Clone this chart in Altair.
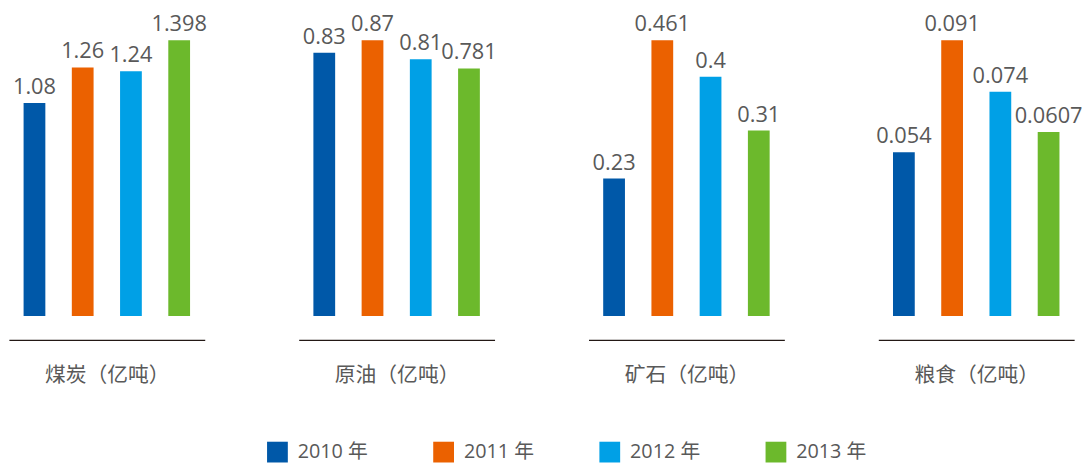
import altair as alt
import pandas as pd

years = ["2010 年", "2011 年", "2012 年", "2013 年"]
categories = ["煤炭（亿吨）", "原油（亿吨）", "矿石（亿吨）", "粮食（亿吨）"]
coal = [1.08, 1.26, 1.24, 1.398]
oil = [0.83, 0.87, 0.81, 0.781]
ore = [0.23, 0.461, 0.4, 0.31]
grain = [0.054, 0.091, 0.074, 0.0607]
colors = ["#0058A8", "#EB6100", "#00A0E6", "#6CB92C"]

series = [coal, oil, ore, grain]
rows = []
for cat, vals in zip(categories, series):
    for y, v in zip(years, vals):
        rows.append({"category": cat, "year": y, "value": v, "label": str(v)})
df = pd.DataFrame(rows)

FONT = "Open Sans, Noto Sans CJK SC"
CJK = "Noto Sans CJK SC"
TXT = "#595959"

color_enc = alt.Color(
    "year:N",
    scale=alt.Scale(domain=years, range=colors),
    legend=alt.Legend(
        title=None,
        orient="none",
        legendX=261,
        legendY=406,
        direction="horizontal",
        symbolType="square",
        symbolSize=441,
        symbolStrokeWidth=0,
        labelFontSize=20,
        labelFont=FONT,
        labelColor=TXT,
        labelOffset=10,
        columnPadding=66,
    ),
)

panels = []
for cat in categories:
    base = alt.Chart(df).transform_filter(alt.datum.category == cat)
    x_enc = alt.X(
        "year:N",
        sort=years,
        scale=alt.Scale(paddingInner=0, paddingOuter=0.03),
        axis=alt.Axis(
            title=cat,
            labels=False,
            ticks=False,
            domain=True,
            domainColor="#231815",
            domainWidth=1.3,
            offset=24,
            titleFont=CJK,
            titleFontSize=21,
            titleFontWeight="normal",
            titleColor=TXT,
            titlePadding=25,
        ),
    )
    y_enc = alt.Y("value:Q", scale=alt.Scale(zero=True, nice=False), axis=None)
    bars = base.mark_bar(size=22).encode(x=x_enc, y=y_enc, color=color_enc)
    text = base.mark_text(
        dy=-9, baseline="alphabetic", fontSize=22, font=FONT, color=TXT
    ).encode(x=alt.X("year:N", sort=years), y=alt.Y("value:Q"), text="label:N")
    panels.append((bars + text).properties(width=198, height=279))

chart = (
    alt.hconcat(*panels, spacing=92)
    .properties(padding={"top": 11, "left": 9, "right": 5, "bottom": 5})
    .configure_view(stroke=None)
)

chart.save("out.html", embed_options={"renderer": "svg", "actions": False})
